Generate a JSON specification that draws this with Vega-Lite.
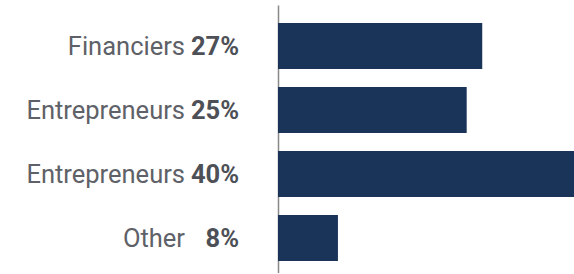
{
  "$schema": "https://vega.github.io/schema/vega-lite/v6.json",
  "autosize": "none",
  "padding": {"left": 278, "top": 5, "right": 0, "bottom": 0},
  "width": 296,
  "height": 268,
  "background": "white",
  "data": {"values": [
    {"id": 1, "name": "Financiers", "pct": "27%", "value": 27.6},
    {"id": 2, "name": "Entrepreneurs", "pct": "25%", "value": 25.5},
    {"id": 3, "name": "Entrepreneurs", "pct": "40%", "value": 40},
    {"id": 4, "name": "Other", "pct": "8%", "value": 8.1}
  ]},
  "encoding": {
    "y": {"field": "id", "type": "ordinal", "sort": "ascending",
      "scale": {"paddingInner": 0.28125, "paddingOuter": 0.234375, "align": 0.6},
      "axis": {"title": null, "labels": false, "ticks": false, "domainColor": "#888888", "domainWidth": 1.5, "grid": false}}
  },
  "layer": [
    {"mark": {"type": "bar", "color": "#1a3459"},
     "encoding": {"x": {"field": "value", "type": "quantitative", "scale": {"domain": [0, 40], "nice": false}, "axis": null}}},
    {"mark": {"type": "text", "align": "right", "baseline": "middle", "dx": -93, "dy": 1, "font": "Roboto", "fontSize": 25.5, "color": "#5e6167"},
     "encoding": {"x": {"datum": 0, "type": "quantitative"}, "text": {"field": "name"}}},
    {"mark": {"type": "text", "align": "right", "baseline": "middle", "dx": -39, "dy": 1, "font": "Roboto", "fontSize": 25.5, "fontWeight": "bold", "color": "#4d5056"},
     "encoding": {"x": {"datum": 0, "type": "quantitative"}, "text": {"field": "pct"}}}
  ],
  "config": {"view": {"stroke": null}}
}
